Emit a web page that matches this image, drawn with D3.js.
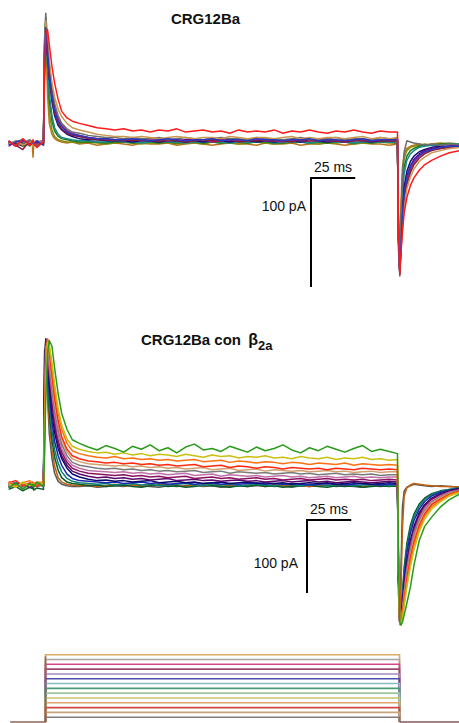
<!DOCTYPE html>
<html>
<head>
<meta charset="utf-8">
<script src="https://cdn.jsdelivr.net/npm/d3@7"></script>
<style>
  body{margin:0;background:#fff;}
  text{font-family:"Liberation Sans",Arial,sans-serif;fill:#111;}
</style>
</head>
<body>
<script>
// time points (ms) of the read-off samples
const tPre   = [-20,-16,-12,-8,-6.6,-6.2,-5.8,-4,-0.3];
const tEarly = [0.3,1,2,3,4.5,6,8,10,13,16];
const tPlat  = [20,25,30,35,40,45,50,55,60,65,70,75,80,85,90,95,100,105,110,115,120,125,130,135,140,145,150,155,160,165,170,175,180,185,190,195,199.7];
const tTail  = [200.3,201,201.7,202.5,203.5,205,207,209,212,215,219,224,229,235];

// ---- CRG12Ba (pA), drawn bottom -> top
const p1Colors = ["#b8741a","#8a8a10","#1a7a1a","#1a8a8a","#10107a","#700070","#b0208a","#8a1a3a","#6e6e6e","#c89850","#2a3ac0","#ff1a1a"];
const p1Pre = [
  [-1,0,-2,1,0,-13,-1,-1,2],
  [1,-1,2,-3,0,1,0,-1,0],
  [0,1,-3,1,0,-1,0,2,-2],
  [-1,2,0,-2,0,2,1,0,1],
  [2,-3,1,0,-1,-2,0,1,-1],
  [1,-1,-2,2,1,0,-1,-3,1],
  [-3,1,2,-2,0,1,0,-1,0],
  [0,-2,-6,2,0,-1,1,1,2],
  [1,-2,0,3,1,-1,0,-3,2],
  [-1,2,-2,1,0,-3,1,2,0],
  [-2,1,3,-1,0,1,-1,2,-2],
  [2,-3,4,-2,1,3,-1,-4,1]
];
const p1Early = [
  [70,100,45,18,8,4,2,1,0,1],
  [85,112,60,28,12,6,3,2,1,1],
  [90,115,72,40,20,11,6,4,3,2],
  [88,110,75,45,25,14,8,5,4,3],
  [80,108,85,60,38,25,16,12,8,6],
  [70,88,80,65,45,32,22,16,11,8],
  [75,100,85,66,46,32,22,16,11,9],
  [80,105,82,60,40,27,18,13,9,7],
  [95,119,95,72,50,36,25,18,13,10],
  [85,112,92,75,55,42,31,24,18,14],
  [82,106,86,64,44,30,20,15,10,8],
  [60,100,104,90,70,55,40,29,23,20]
];
const p1Plat = [
  [-1,0,-2,-1,0,-1,-2,0,-1,-1,0,-2,-1,0,-1,-2,-1,0,-1,-1,-2,0,-1,-1,0,-2,-1,-1,0,-1,-2,-1,0,-1,-1,-2,-1],
  [0,1,0,-1,0,1,0,-1,0,0,1,-1,0,0,-1,1,0,0,-1,0,1,0,-1,0,0,1,0,-1,0,0,1,-1,0,0,1,0,0],
  [1,1,1,0,1,1,0,1,1,0,1,0,1,1,0,1,0,1,1,0,1,1,0,0,1,1,0,1,0,1,1,0,1,0,1,1,0],
  [2,2,1,1,2,1,1,0,1,2,1,1,0,1,1,2,1,0,1,1,1,2,0,1,1,1,0,1,2,1,1,0,1,1,1,1,1],
  [4,3,3,2,2,2,1,2,2,1,2,2,1,2,1,2,2,1,2,2,1,2,1,2,2,1,2,2,1,2,1,2,2,1,2,2,2],
  [6,5,4,4,3,3,3,4,2,3,3,2,3,3,2,3,3,2,3,2,3,3,2,3,2,3,3,2,3,2,3,2,3,3,2,3,3],
  [7,5,4,3,3,2,3,2,3,2,2,3,2,2,3,1,2,3,2,2,3,2,2,1,3,2,2,3,2,2,1,3,2,2,3,2,2],
  [6,4,3,3,2,3,2,3,2,2,3,2,1,2,3,2,2,3,1,2,2,3,2,2,1,3,2,2,3,2,1,2,3,2,2,2,2],
  [9,7,6,5,5,4,5,4,4,5,3,4,5,4,3,4,5,4,4,3,5,4,4,3,4,5,3,4,4,5,3,4,4,3,5,4,4],
  [12,10,8,7,6,6,5,6,5,4,5,6,5,4,5,5,4,6,5,4,5,5,4,5,6,4,5,4,5,5,4,5,6,4,5,4,5],
  [7,5,4,4,3,3,4,3,2,3,4,3,2,3,3,4,2,3,3,2,4,3,3,2,3,3,4,2,3,3,2,3,4,2,3,3,3],
  [18,16,14,13,12,13,11,12,10,12,11,13,10,11,12,10,11,9,12,10,11,10,12,9,11,10,12,10,9,11,10,12,10,9,11,10,10]
];
const p1Tail = [
  [-100,-115,-55,-22,-10,-5,-3,-2,-1,-2,-1,0,-1,-2],
  [-95,-117,-65,-30,-14,-7,-4,-3,-2,-1,-2,-1,0,-1],
  [-90,-118,-75,-40,-22,-12,-7,-5,-3,-2,-2,-1,-1,-2],
  [-90,-116,-80,-48,-28,-16,-10,-7,-4,-3,-2,-2,-1,-1],
  [-85,-119,-90,-60,-40,-26,-17,-12,-8,-6,-4,-3,-3,-2],
  [-85,-118,-92,-65,-45,-30,-21,-15,-10,-7,-5,-4,-3,-3],
  [-88,-120,-95,-70,-50,-35,-25,-18,-12,-9,-6,-5,-4,-3],
  [-86,-117,-96,-72,-53,-38,-27,-20,-14,-10,-7,-5,-4,-3],
  [-90,-122,-70,-30,-8,2,1,0,-1,-2,-1,-2,-1,-2],
  [-85,-118,-98,-78,-58,-42,-31,-24,-17,-13,-9,-7,-5,-4],
  [-88,-119,-93,-66,-47,-32,-22,-16,-11,-8,-6,-4,-3,-3],
  [-80,-121,-100,-82,-64,-50,-39,-32,-25,-20,-16,-12,-9,-7]
];

// ---- CRG12Ba con beta2a (pA), drawn bottom -> top
const p2Colors = ["#555555","#c06010","#0a5a2a","#108070","#1a2ab0","#0a0a6a","#5a0a6a","#8a1060","#c070a8","#7a7a7a","#d0a070","#ff2a10","#ff7010","#c8c010","#2a9a1a"];
const p2Pre = [
  [-1,2,-2,1,-3,0,2,-1,0],
  [0,-3,1,-2,0,-4,-1,2,-2],
  [-6,-2,-8,-3,-5,-1,-7,-4,-6],
  [-2,1,0,-4,-1,1,-2,0,1],
  [1,3,-1,0,2,-2,0,3,-1],
  [-3,0,2,-1,-2,0,1,-1,2],
  [2,-1,1,-3,0,1,-1,2,0],
  [-1,2,-2,0,1,-2,0,1,-1],
  [1,-2,0,3,-1,0,2,-1,1],
  [-2,1,-3,2,0,-1,1,-2,0],
  [0,-3,2,-1,1,3,-2,0,2],
  [3,6,-1,2,4,1,0,-2,5],
  [5,-2,3,6,1,-1,2,4,3],
  [2,-3,4,-1,2,0,-2,3,1],
  [-4,3,-6,2,-1,1,-3,4,-2]
];
const p2Early = [
  [185,180,120,70,36,16,5,1,-1,-2],
  [175,190,135,85,48,26,10,4,1,0],
  [160,196,150,100,62,38,20,10,4,2],
  [150,198,160,112,74,48,30,18,9,5],
  [140,200,170,125,86,60,40,27,15,9],
  [130,200,180,138,100,72,50,36,23,15],
  [120,198,184,146,110,80,56,40,27,19],
  [110,195,188,152,118,88,62,45,31,23],
  [100,190,192,160,126,96,68,50,35,27],
  [90,185,196,168,134,104,76,56,40,31],
  [80,175,198,175,142,112,82,62,45,36],
  [70,165,200,182,150,120,88,66,49,40],
  [60,150,200,188,160,130,98,76,57,47],
  [50,140,195,192,168,138,105,82,63,53],
  [40,120,180,198,190,160,125,98,76,62]
];
const p2Plat = [
  [-2,-1,-3,-2,-1,-2,0,-1,-2,-3,-1,-2,-1,0,-2,-1,-3,-2,-1,-2,-1,0,-2,-1,-3,-1,-2,-1,0,-2,-1,-2,-3,-1,-2,-1,-2],
  [-1,0,-2,-1,1,-1,0,-2,-1,0,1,-1,-2,0,-1,1,-2,0,-1,-1,0,-2,1,-1,0,-1,-2,0,-1,1,-1,0,-2,-1,0,-1,-1],
  [1,-1,0,-2,-1,0,-2,-3,-1,0,-2,-1,-3,-2,0,-1,-2,-3,-1,-2,0,-2,-1,-3,-2,-1,0,-2,-3,-1,-2,-1,-3,-2,-1,-2,-1],
  [3,2,1,2,0,1,2,0,1,-1,0,1,2,0,-1,1,0,1,-1,0,1,0,-1,1,0,-1,0,1,-1,0,1,-1,0,0,1,-1,0],
  [6,5,4,3,4,2,3,4,2,3,1,2,3,1,2,3,1,2,1,2,3,1,2,1,2,1,0,1,2,1,0,1,2,1,0,1,1],
  [11,8,6,7,5,6,4,5,6,3,4,5,3,4,2,3,4,2,3,4,2,3,2,3,1,2,3,2,3,1,2,3,2,1,2,3,2],
  [15,12,10,11,9,10,8,9,7,8,9,6,7,8,6,7,5,6,7,5,6,4,5,6,4,5,6,4,5,3,4,5,4,3,4,5,4],
  [19,16,15,14,13,14,12,13,11,12,10,11,12,9,10,11,9,10,8,9,10,8,9,7,8,9,7,8,9,7,8,7,8,6,7,8,7],
  [23,20,19,18,17,18,16,17,15,16,14,15,16,13,14,15,12,14,13,12,13,11,12,13,11,12,10,11,12,10,11,12,10,11,10,11,11],
  [27,25,23,22,23,21,22,20,21,19,20,18,19,20,17,18,19,16,18,17,16,17,15,16,17,15,16,14,15,16,14,15,14,15,13,14,14],
  [32,29,28,27,26,27,25,26,24,25,23,24,22,23,24,21,22,23,20,21,22,19,21,20,19,20,18,19,20,18,19,17,18,19,17,18,18],
  [36,33,32,30,31,29,30,28,29,27,28,26,27,28,25,26,27,24,26,25,23,25,24,22,24,23,22,23,21,23,22,21,23,22,21,22,21],
  [43,40,38,37,39,36,37,35,36,34,35,33,34,35,32,33,34,31,33,32,30,32,31,29,31,30,28,30,29,28,30,27,29,28,27,28,27],
  [49,46,44,45,42,44,41,43,40,42,41,39,42,40,38,41,39,40,37,39,38,40,37,38,36,39,37,36,38,35,37,36,38,35,36,34,35],
  [57,52,48,54,50,45,53,49,55,47,51,44,52,56,48,50,46,53,49,45,52,47,50,55,48,44,51,47,53,49,45,50,54,46,49,46,43]
];
const p2Tail = [
  [-150,-185,-110,-30,-8,-3,-1,1,0,-1,-2,-1,-2,-3],
  [-140,-188,-140,-60,-15,-4,0,2,1,0,-1,-2,-2,-3],
  [-130,-190,-178,-148,-112,-80,-55,-40,-26,-18,-12,-8,-6,-4],
  [-130,-189,-180,-152,-118,-86,-60,-44,-29,-20,-13,-9,-6,-4],
  [-128,-190,-182,-158,-126,-93,-66,-49,-33,-23,-15,-10,-7,-5],
  [-125,-191,-186,-165,-138,-105,-76,-57,-38,-27,-18,-12,-8,-5],
  [-125,-190,-186,-167,-141,-108,-79,-60,-40,-28,-19,-13,-9,-6],
  [-122,-189,-187,-169,-144,-112,-83,-63,-43,-30,-20,-14,-9,-6],
  [-120,-188,-187,-171,-147,-116,-87,-66,-46,-32,-22,-15,-10,-7],
  [-120,-190,-188,-173,-150,-120,-91,-70,-49,-35,-24,-16,-11,-7],
  [-118,-189,-189,-175,-153,-124,-95,-73,-52,-37,-25,-17,-12,-8],
  [-118,-190,-190,-178,-157,-129,-100,-78,-56,-40,-27,-19,-13,-8],
  [-115,-191,-191,-181,-162,-135,-106,-83,-60,-43,-30,-21,-14,-9],
  [-115,-190,-191,-183,-166,-140,-112,-89,-64,-47,-33,-23,-15,-10],
  [-110,-188,-192,-188,-178,-162,-140,-110,-76,-57,-44,-30,-20,-12]
];

// ---- voltage protocol (mV), top step first
const vHold = -80;
const vSteps = [60,50,40,30,20,10,0,-10,-20,-30,-40,-50,-60,-70];
const vColors = ["#dcaa66","#a4a4a4","#d4488a","#9a4a72","#a888c4","#4a4aac","#88bcc4","#4a9a7a","#9cc89c","#c4c46a","#dca470","#d04848","#c4a47c","#7c7c7c"];
const stepStart = 0, stepEnd = 200;

// scale bar values
const barMs = 25, barPA = 100;

const width=459,height=723;
const svg=d3.select("body").append("svg")
  .attr("width",width)
  .attr("height",height)
  .style("display","block");
svg.append("rect").attr("width",width).attr("height",height).attr("fill","#fff");

const xScale=d3.scaleLinear().domain([-20,235]).range([8.6,459.95]);
const y1=d3.scaleLinear().domain([0,100]).range([143,34]);
const y2=d3.scaleLinear().domain([0,100]).range([485,412]);
const yV=d3.scaleLinear().domain([-80,60]).range([722,654.7]);

const tAll=tPre.concat(tEarly,tPlat,tTail);

function drawTraces(yScale,pre,early,plat,tail,colors){
  const g=svg.append("g");
  const line=d3.line()
    .x(d=>xScale(d[0]))
    .y(d=>yScale(d[1]));
  colors.forEach((c,i)=>{
    const vals=pre[i].concat(early[i],plat[i],tail[i]);
    const pts=tAll.map((t,j)=>[t,vals[j]]);
    g.append("path")
      .datum(pts)
      .attr("fill","none")
      .attr("stroke",c)
      .attr("stroke-width",1.5)
      .attr("stroke-linejoin","round")
      .attr("d",line);
  });
}
drawTraces(y1,p1Pre,p1Early,p1Plat,p1Tail,p1Colors);
drawTraces(y2,p2Pre,p2Early,p2Plat,p2Tail,p2Colors);

// scale bars
function scaleBar(x0,y0,yScale,tx1,ty1,tx2,ty2){
  const w=xScale(barMs)-xScale(0);
  const h=yScale(0)-yScale(barPA);
  svg.append("path")
    .attr("d",`M${x0+w},${y0}H${x0}V${y0+h}`)
    .attr("fill","none")
    .attr("stroke","#000")
    .attr("stroke-width",2);
  svg.append("text").attr("x",tx1).attr("y",ty1)
    .attr("text-anchor","middle").attr("font-size",14)
    .text(barMs+" ms");
  svg.append("text").attr("x",tx2).attr("y",ty2)
    .attr("text-anchor","end").attr("font-size",14)
    .text(barPA+" pA");
}
scaleBar(311,178,y1,333,172,306,211);
scaleBar(307,520,y2,329,514,298,568);

// titles
svg.append("text").attr("x",205.5).attr("y",24)
  .attr("text-anchor","middle").attr("font-size",15).attr("font-weight","bold")
  .text("CRG12Ba");
const t2=svg.append("text").attr("x",141).attr("y",345)
  .attr("font-size",15).attr("font-weight","bold");
t2.append("tspan").text("CRG12Ba con ");
t2.append("tspan").attr("dx",3).attr("font-size",16).text("β");
t2.append("tspan").attr("font-size",13).attr("dy",5).text("2a");

// voltage protocol
const vg=svg.append("g").attr("transform","translate(1.5,0)");
const vLine=d3.line().x(d=>xScale(d[0])).y(d=>yV(d[1]));
vSteps.forEach((v,i)=>{
  vg.append("path")
    .datum([[stepStart,vHold],[stepStart,v],[stepEnd,v],[stepEnd,vHold]])
    .attr("fill","none")
    .attr("stroke",vColors[i])
    .attr("stroke-width",1.6)
    .attr("d",vLine);
});
vg.append("path")
  .datum([[-20,vHold],[stepStart,vHold],[stepStart,d3.max(vSteps)-3]])
  .attr("fill","none").attr("stroke","#946652").attr("stroke-width",1.6)
  .attr("d",vLine);
vg.append("path")
  .datum([[stepEnd,vHold],[235,vHold]])
  .attr("fill","none").attr("stroke","#8a5656").attr("stroke-width",1.6)
  .attr("d",vLine);
</script>
</body>
</html>
